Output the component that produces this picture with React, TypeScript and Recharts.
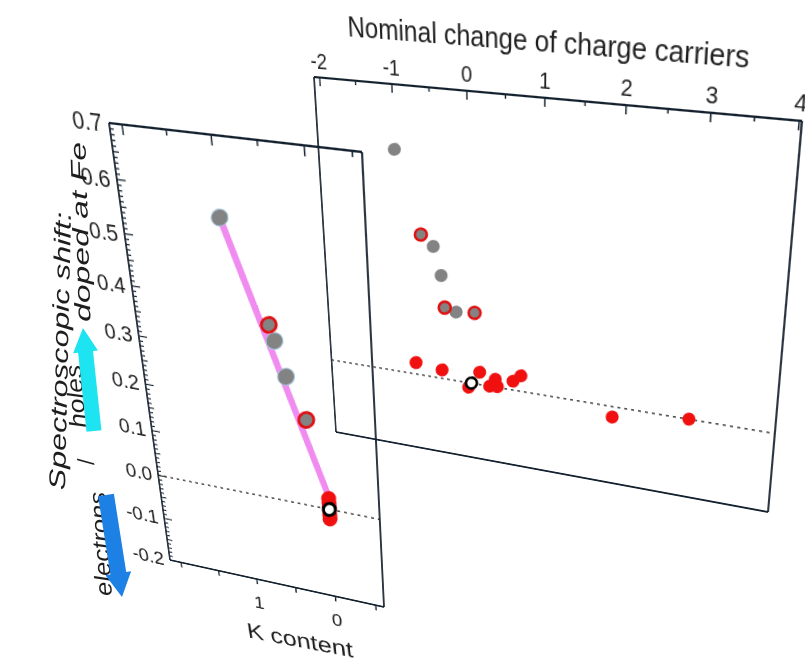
import React from 'react';
import { ScatterChart, Scatter, XAxis, YAxis, ReferenceLine } from 'recharts';

// front panel: shift vs K content
const K_GRAY = [1.0, 0.5, 0.4];
const SHIFT_GRAY_K = [0.555, 0.335, 0.267];
const K_RING = [0.55, 0.2];
const SHIFT_RING_K = [0.365, 0.185];
const K_RED = [0, 0, 0, 0, 0, 0];
const SHIFT_RED_K = [0.024, 0.015, 0.006, -0.003, -0.012, -0.021];
const K_FIT = [1.0, 0.0];
const SHIFT_FIT = [0.555, 0.03];
const K_TICKS = [-0.5, 0, 0.5, 1, 1.5, 2];
const K_LABELED = [1, 0];

// back panel: shift vs nominal change of charge carriers
const N_GRAY = [-1.0, -0.5, -0.4, -0.2];
const SHIFT_GRAY_N = [0.552, 0.332, 0.263, 0.177];
const N_RING = [-0.67, -0.36, 0.06];
const SHIFT_RING_N = [0.357, 0.184, 0.182];
const N_RED = [-0.8, -0.42, 0.12, -0.04, 0.34, 0.26, 0.37, 0.59, 0.7, 1.95, 2.95];
const SHIFT_RED_N = [0.03, 0.022, 0.032, -0.012, 0.02, 0.0, 0.002, 0.023, 0.04, -0.027, 0.0];
const N_MAJOR = [-2, -1, 0, 1, 2, 3, 4];
const N_TICKS = [-2, -1.5, -1, -0.5, 0, 0.5, 1, 1.5, 2, 2.5, 3, 3.5, 4];
const N_LABELS = ['-2', '-1', '0', '1', '2', '3', '4'];

const REF_X = [0];
const REF_SHIFT = [0];
const SHIFT_MAJOR = [-0.2, -0.1, 0, 0.1, 0.2, 0.3, 0.4, 0.5, 0.6, 0.7];

const SHIFT_DOMAIN: [number, number] = [-0.2, 0.7];
const K_DOMAIN: [number, number] = [-0.6, 2.15];
const N_DOMAIN: [number, number] = [-2.08, 4.03];

const FONT = '"Liberation Sans", Arial, Helvetica, sans-serif';
const INK = '#1e1e1e';
const AXIS = '#14212e';
const GRAY = '#838383';
const RED = '#f01010';
const PINK = '#f08cf0';

const pts = (xs: number[], ys: number[]) => xs.map((x, i) => ({ x, y: ys[i] }));

// minor ticks every 0.01 on the front shift axis
const SHIFT_MINOR: number[] = [];
for (let i = -20; i <= 70; i++) SHIFT_MINOR.push(i / 100);

type Pt = [number, number];

// local layout of each panel and where its plot corners land on the page
const F = { w: 390, h: 540, left: 125, top: 30, pw: 240, ph: 440 };
const F_QUAD: Pt[] = [[109, 123], [362, 152], [170, 560], [384, 607]];
const B = { w: 520, h: 500, left: 25, top: 95, pw: 470, ph: 370 };
const B_QUAD: Pt[] = [[314, 77], [802, 121], [336, 432], [768, 512]];

function solveH(src: Pt[], dst: Pt[]) {
  const A: number[][] = [];
  for (let i = 0; i < 4; i++) {
    const [x, y] = src[i];
    const [X, Y] = dst[i];
    A.push([x, y, 1, 0, 0, 0, -X * x, -X * y, X]);
    A.push([0, 0, 0, x, y, 1, -Y * x, -Y * y, Y]);
  }
  const n = 8;
  for (let c = 0; c < n; c++) {
    let p = c;
    for (let r = c + 1; r < n; r++) if (Math.abs(A[r][c]) > Math.abs(A[p][c])) p = r;
    [A[c], A[p]] = [A[p], A[c]];
    for (let r = 0; r < n; r++) {
      if (r === c) continue;
      const f = A[r][c] / A[c][c];
      for (let k = c; k <= n; k++) A[r][k] -= f * A[c][k];
    }
  }
  return A.map((row, i) => row[n] / row[i]);
}

const rectOf = (b: typeof F): Pt[] => {
  const L = b.left, T = b.top, R = b.left + b.pw, Bm = b.top + b.ph;
  return [[L, T], [R, T], [L, Bm], [R, Bm]];
};

const apply = (h: number[], [x, y]: Pt): Pt => {
  const w = h[6] * x + h[7] * y + 1;
  return [(h[0] * x + h[1] * y + h[2]) / w, (h[3] * x + h[4] * y + h[5]) / w];
};

const F_H = solveH(rectOf(F), F_QUAD);
const F_INV = solveH(F_QUAD, rectOf(F));
const B_H = solveH(rectOf(B), B_QUAD);

const matrix3d = (h: number[]) =>
  `matrix3d(${h[0]},${h[3]},0,${h[6]},${h[1]},${h[4]},0,${h[7]},0,0,1,0,${h[2]},${h[5]},0,1)`;

const Panel: React.FC<{ box: typeof F; h: number[]; children: React.ReactNode }> = ({ box, h, children }) => (
  <div
    style={{
      position: 'absolute', left: 0, top: 0, width: box.w, height: box.h,
      transformOrigin: '0 0', transform: matrix3d(h),
    }}
  >
    {children}
  </div>
);

// local inverse jacobian so markers stay round on the page
const undistort = (h: number[], x: number, y: number) => {
  const w = h[6] * x + h[7] * y + 1;
  const [X, Y] = apply(h, [x, y]);
  const a = (h[0] - X * h[6]) / w, b = (h[1] - X * h[7]) / w;
  const c = (h[3] - Y * h[6]) / w, d = (h[4] - Y * h[7]) / w;
  const det = a * d - b * c;
  return `translate(${x},${y}) matrix(${d / det},${-c / det},${-b / det},${a / det},0,0)`;
};

const dot = (h: number[], r: number, fill: string, stroke = 'none', sw = 0) => (p: any) => (
  <circle cx={0} cy={0} r={r} fill={fill} stroke={stroke} strokeWidth={sw} transform={undistort(h, p.cx, p.cy)} />
);
const noDot = () => <g />;

const near = (a: number, b: number) => Math.abs(a - b) < 1e-6;

// text laid along a segment; inv maps page points into panel space (null = flat page)
const segText = (inv: number[] | null, s: Pt, e: Pt, str: string, size: number, italic: boolean, stretch = true) => {
  const a = inv ? apply(inv, s) : s, b = inv ? apply(inv, e) : e;
  const len = Math.hypot(b[0] - a[0], b[1] - a[1]);
  const ang = (Math.atan2(b[1] - a[1], b[0] - a[0]) * 180) / Math.PI;
  const cx = (a[0] + b[0]) / 2, cy = (a[1] + b[1]) / 2;
  return (
    <text transform={`translate(${cx},${cy}) rotate(${ang})`} textAnchor="middle" dominantBaseline="central"
      fontSize={size} textLength={stretch ? len : undefined} lengthAdjust="spacingAndGlyphs"
      fontStyle={italic ? 'italic' : 'normal'} fill={INK} fontFamily={FONT}>
      {str}
    </text>
  );
};

const arrow = (tip: Pt, base: Pt, headHalf: number, shaftHalf: number, headLen: number, color: string) => {
  const L = Math.hypot(tip[0] - base[0], tip[1] - base[1]);
  const ux = (tip[0] - base[0]) / L, uy = (tip[1] - base[1]) / L;
  const nx = -uy, ny = ux;
  const hx = tip[0] - ux * headLen, hy = tip[1] - uy * headLen;
  const poly: Pt[] = [
    tip, [hx + nx * headHalf, hy + ny * headHalf], [hx + nx * shaftHalf, hy + ny * shaftHalf],
    [base[0] + nx * shaftHalf, base[1] + ny * shaftHalf], [base[0] - nx * shaftHalf, base[1] - ny * shaftHalf],
    [hx - nx * shaftHalf, hy - ny * shaftHalf], [hx - nx * headHalf, hy - ny * headHalf],
  ];
  return <polygon points={poly.map((q) => q.join(',')).join(' ')} fill={color} />;
};

const frontLeftLabel = (p: any) => (
  <text x={p.x - 7} y={p.y} dy="0.36em" textAnchor="end" fontSize={22} fill={INK} fontFamily={FONT}>
    {p.payload.value.toFixed(1)}
  </text>
);

const frontBottomTick = (p: any) => {
  const v = p.payload.value;
  const idx = K_LABELED.findIndex((k) => near(k, v));
  return (
    <g>
      <line x1={p.x} y1={p.y} x2={p.x} y2={p.y + 6} stroke={AXIS} strokeWidth={1.5} />
      {idx >= 0 && (
        <text x={p.x} y={p.y + 27} dy="0.36em" textAnchor="middle" fontSize={21} fill={INK} fontFamily={FONT}>
          {String(K_LABELED[idx])}
        </text>
      )}
    </g>
  );
};

const backTopLabel = (p: any) => {
  const i = N_MAJOR.findIndex((n) => near(n, p.payload.value));
  return (
    <text x={p.x} y={p.y - 15} dy="0.36em" textAnchor="middle" fontSize={20} fill={INK} fontFamily={FONT}>
      {N_LABELS[i]}
    </text>
  );
};

const backBottomTick = (p: any) => (
  <line x1={p.x} y1={p.y} x2={p.x} y2={p.y + 5} stroke={AXIS} strokeWidth={1.5} />
);

const axisLine = { stroke: AXIS, strokeWidth: 1.8 };

// inward tick marks as short reference segments in data space
const shiftSpan = SHIFT_DOMAIN[1] - SHIFT_DOMAIN[0];
const frontLeftTicks = SHIFT_MINOR.map((v) => {
  const major = SHIFT_MAJOR.some((m) => near(m, v));
  const mid = !major && near(Math.round(v * 20), v * 20);
  const len = ((major ? 9 : mid ? 6 : 4) / F.pw) * (K_DOMAIN[1] - K_DOMAIN[0]);
  return (
    <ReferenceLine key={`fl${v}`} xAxisId="b" yAxisId="l" stroke={AXIS} strokeWidth={1.2}
      segment={[{ x: K_DOMAIN[1], y: v }, { x: K_DOMAIN[1] - len, y: v }]} />
  );
});
const frontTopTicks = K_TICKS.map((v) => {
  const len = ((near(Math.round(v), v) ? 9 : 5) / F.ph) * shiftSpan;
  return (
    <ReferenceLine key={`ft${v}`} xAxisId="b" yAxisId="l" stroke={AXIS} strokeWidth={1.4}
      segment={[{ x: v, y: SHIFT_DOMAIN[1] }, { x: v, y: SHIFT_DOMAIN[1] - len }]} />
  );
});
const backTopTicks = N_TICKS.map((v) => {
  const len = ((near(Math.round(v), v) ? 8 : 4) / B.ph) * shiftSpan;
  return (
    <ReferenceLine key={`bt${v}`} xAxisId="t" yAxisId="l" stroke={AXIS} strokeWidth={1.4}
      segment={[{ x: v, y: SHIFT_DOMAIN[1] }, { x: v, y: SHIFT_DOMAIN[1] - len }]} />
  );
});

const FrontPanel = () => (
  <Panel box={F} h={F_H}>
    <ScatterChart width={F.w} height={F.h} margin={{ top: F.top, right: F.w - F.left - F.pw, bottom: 0, left: 0 }}>
      <XAxis xAxisId="b" type="number" dataKey="x" domain={K_DOMAIN} reversed orientation="bottom"
        height={F.h - F.top - F.ph} ticks={K_TICKS} interval={0} tickSize={0} tickMargin={0}
        tickLine={false} axisLine={axisLine} tick={frontBottomTick} />
      <XAxis xAxisId="t" type="number" dataKey="x" domain={K_DOMAIN} reversed orientation="top" mirror
        tick={false} tickLine={false} axisLine={axisLine} />
      <YAxis yAxisId="l" type="number" dataKey="y" domain={SHIFT_DOMAIN} width={F.left} ticks={SHIFT_MAJOR}
        interval={0} tickSize={0} tickMargin={0} tickLine={false} axisLine={axisLine} tick={frontLeftLabel} />
      <YAxis yAxisId="r" type="number" dataKey="y" domain={SHIFT_DOMAIN} orientation="right" mirror
        tick={false} tickLine={false} axisLine={axisLine} />
      {frontLeftTicks}
      {frontTopTicks}
      <ReferenceLine xAxisId="b" yAxisId="l" y={REF_SHIFT[0]} stroke="#111" strokeWidth={1.3} strokeDasharray="3 4" />
      <Scatter xAxisId="b" yAxisId="l" data={pts(K_FIT, SHIFT_FIT)} fill="none"
        line={{ stroke: PINK, strokeWidth: 7 }} shape={noDot} isAnimationActive={false} />
      <Scatter xAxisId="b" yAxisId="l" data={pts(K_RED, SHIFT_RED_K)} shape={dot(F_H, 7.5, RED)} isAnimationActive={false} />
      <Scatter xAxisId="b" yAxisId="l" data={pts(K_GRAY, SHIFT_GRAY_K)} shape={dot(F_H, 8.5, GRAY, '#a8cbe0', 1)} isAnimationActive={false} />
      <Scatter xAxisId="b" yAxisId="l" data={pts(K_RING, SHIFT_RING_K)} shape={dot(F_H, 7.5, GRAY, '#e01010', 2.8)} isAnimationActive={false} />
      <Scatter xAxisId="b" yAxisId="l" data={pts(REF_X, REF_SHIFT)} shape={dot(F_H, 6, '#fff', '#000', 3)} isAnimationActive={false} />
    </ScatterChart>
    <svg width={F.w} height={F.h} style={{ position: 'absolute', left: 0, top: 0, overflow: 'visible' }}>
      {segText(F_INV, [247, 630], [353, 650], 'K content', 26, false)}
    </svg>
  </Panel>
);

const BackPanel = () => (
  <Panel box={B} h={B_H}>
    <ScatterChart width={B.w} height={B.h} margin={{ top: 0, right: B.w - B.left - B.pw, bottom: 0, left: 0 }}>
      <XAxis xAxisId="t" type="number" dataKey="x" domain={N_DOMAIN} orientation="top" height={B.top}
        ticks={N_MAJOR} interval={0} tickSize={0} tickMargin={0} tickLine={false} axisLine={axisLine} tick={backTopLabel} />
      <XAxis xAxisId="b" type="number" dataKey="x" domain={N_DOMAIN} orientation="bottom" height={B.h - B.top - B.ph}
        ticks={N_TICKS} interval={0} tickSize={0} tickMargin={0} tickLine={false} axisLine={axisLine} tick={backBottomTick} />
      <YAxis yAxisId="l" type="number" dataKey="y" domain={SHIFT_DOMAIN} width={B.left} tick={false} tickLine={false} axisLine={axisLine} />
      <YAxis yAxisId="r" type="number" dataKey="y" domain={SHIFT_DOMAIN} orientation="right" mirror
        tick={false} tickLine={false} axisLine={axisLine} />
      {backTopTicks}
      <ReferenceLine xAxisId="t" yAxisId="l" y={REF_SHIFT[0]} stroke="#111" strokeWidth={1.3} strokeDasharray="3 4" />
      <Scatter xAxisId="t" yAxisId="l" data={pts(N_RED, SHIFT_RED_N)} shape={dot(B_H, 6.5, RED)} isAnimationActive={false} />
      <Scatter xAxisId="t" yAxisId="l" data={pts(N_GRAY, SHIFT_GRAY_N)} shape={dot(B_H, 6.5, GRAY)} isAnimationActive={false} />
      <Scatter xAxisId="t" yAxisId="l" data={pts(N_RING, SHIFT_RING_N)} shape={dot(B_H, 6, GRAY, '#e01010', 2.5)} isAnimationActive={false} />
      <Scatter xAxisId="t" yAxisId="l" data={pts(REF_X, REF_SHIFT)} shape={dot(B_H, 5.5, '#fff', '#000', 2.6)} isAnimationActive={false} />
    </ScatterChart>
    <svg width={B.w} height={B.h} style={{ position: 'absolute', left: 0, top: 0, overflow: 'visible' }}>
      <text x={B.left + B.pw * 0.49} y={46} textAnchor="middle" dominantBaseline="central" fontSize={25} fill={INK} fontFamily={FONT}>
        Nominal change of charge carriers
      </text>
    </svg>
  </Panel>
);

// axis title and carrier-type hints, laid flat on the page
const SideLabels = () => (
  <svg width={805} height={664} style={{ position: 'absolute', left: 0, top: 0 }}>
    {segText(null, [57, 490], [63, 212], 'Spectroscopic shift:', 23, true)}
    {segText(null, [83, 322], [78, 142], 'doped at Fe', 22, true)}
    {segText(null, [78, 428], [73, 365], 'holes', 23, true)}
    {segText(null, [87, 468], [85, 456], '/', 22, true, false)}
    {segText(null, [104, 596], [97, 492], 'electrons', 23, true)}
    {arrow([83, 328], [94, 431], 12.5, 7.5, 24, '#1ee4f2')}
    {arrow([122, 597], [106, 495], 13, 8, 24, '#1c80e4')}
  </svg>
);

export default function App() {
  return (
    <div style={{ position: 'absolute', left: 0, top: 0, width: 805, height: 664, background: '#fff', overflow: 'hidden', fontFamily: FONT }}>
      <BackPanel />
      <FrontPanel />
      <SideLabels />
    </div>
  );
}
